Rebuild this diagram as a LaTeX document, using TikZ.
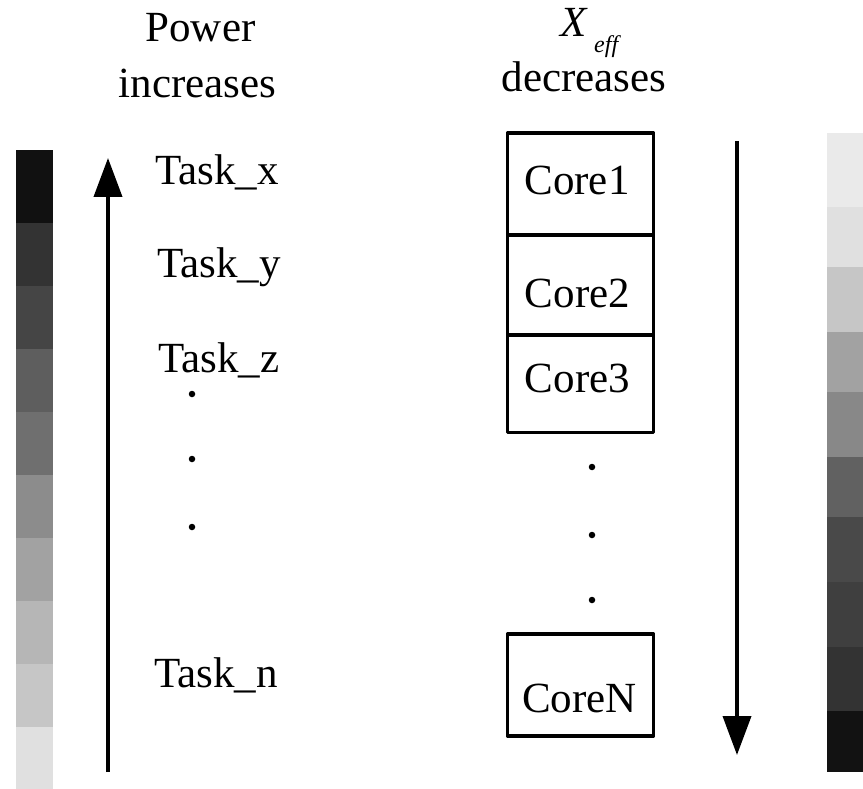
\documentclass[tikz,border=0pt]{standalone}
\usepackage{fontspec}
\setmainfont{Liberation Serif}
\usetikzlibrary{arrows.meta}
\definecolor{La}{HTML}{111111}
\definecolor{Lb}{HTML}{333333}
\definecolor{Lc}{HTML}{454545}
\definecolor{Ld}{HTML}{5E5E5E}
\definecolor{Le}{HTML}{6F6F6F}
\definecolor{Lf}{HTML}{8C8C8C}
\definecolor{Lg}{HTML}{A2A2A2}
\definecolor{Lh}{HTML}{B6B6B6}
\definecolor{Li}{HTML}{C6C6C6}
\definecolor{Lj}{HTML}{E0E0E0}
\definecolor{Ra}{HTML}{EAEAEA}
\definecolor{Rb}{HTML}{E0E0E0}
\definecolor{Rc}{HTML}{C6C6C6}
\definecolor{Rd}{HTML}{A2A2A2}
\definecolor{Re}{HTML}{888888}
\definecolor{Rf}{HTML}{616161}
\definecolor{Rg}{HTML}{494949}
\definecolor{Rh}{HTML}{3F3F3F}
\definecolor{Ri}{HTML}{333333}
\definecolor{Rj}{HTML}{121212}
\begin{document}
\begin{tikzpicture}[x=1pt,y=-1pt,
  lbl/.style={font=\fontsize{43}{50}\selectfont, inner sep=0pt, anchor=base},
  tasklbl/.style={lbl, anchor=base west},
  corebox/.style={draw, line width=3.3pt, line join=round, fill=white, minimum width=146pt, inner sep=0pt},
  flow/.style={line width=3.8pt, -{Triangle[width=28pt,length=39pt]}},
  dotmark/.style={circle, fill, inner sep=0pt, minimum size=6.5pt}]
\useasboundingbox (0,0) rectangle (863,789);

% left gray scale bar
\foreach \a/\b/\c in {150/223/La, 223/286/Lb, 286/349/Lc, 349/412/Ld, 412/475/Le, 475/538/Lf, 538/601/Lg, 601/664/Lh, 664/727/Li, 727/789/Lj}
  \fill[\c] (16,\a) rectangle (53,\b);

% right gray scale bar
\foreach \a/\b/\c in {133/207/Ra, 207/267/Rb, 267/332/Rc, 332/392/Rd, 392/457/Re, 457/517/Rf, 517/582/Rg, 582/647/Rh, 647/711/Ri, 711/772/Rj}
  \fill[\c] (827,\a) rectangle (863,\b);

% headers
\node[lbl] (pw) at (200.5,42) {Power};
\node[lbl] (inc) at (197.5,98) {increases};
\node[lbl, anchor=base west] (xx) at (560,37) {\itshape X};
\node[inner sep=0pt, anchor=base west, font=\fontsize{24}{28}\selectfont\itshape] (eff) at (594,53) {eff};
\node[lbl] (dec) at (584,92) {decreases};

% tasks
\node[tasklbl] (tx) at (155,185) {Task\_x};
\node[tasklbl] (ty) at (157,277) {Task\_y};
\node[tasklbl] (tz) at (158,372) {Task\_z};
\node[tasklbl] (tn) at (154,687) {Task\_n};
\node[dotmark] (ld1) at (192,394) {};
\node[dotmark] (ld2) at (192,459) {};
\node[dotmark] (ld3) at (192,527) {};

% cores
\node[corebox, minimum height=102pt] (c1) at (580.5,184) {};
\node[corebox, minimum height=100pt] (c2) at (580.5,285) {};
\node[corebox, minimum height=97.5pt] (c3) at (580.5,383.75) {};
\node[corebox, minimum height=102pt] (cn) at (580.5,685) {};
\node[lbl] (t1) at (577,195) {Core1};
\node[lbl] (t2) at (577.5,307) {Core2};
\node[lbl] (t3) at (577.5,392) {Core3};
\node[lbl] (tN) at (579.5,712) {CoreN};
\node[dotmark] (rd1) at (592,467) {};
\node[dotmark] (rd2) at (592,535) {};
\node[dotmark] (rd3) at (592,600) {};

% arrows
\coordinate (la0) at (108,772);
\coordinate (la1) at (108,158);
\draw[flow] (la0) -- (la1);
\coordinate (ra0) at (737,141);
\coordinate (ra1) at (737,755);
\draw[flow] (ra0) -- (ra1);
\end{tikzpicture}
\end{document}
